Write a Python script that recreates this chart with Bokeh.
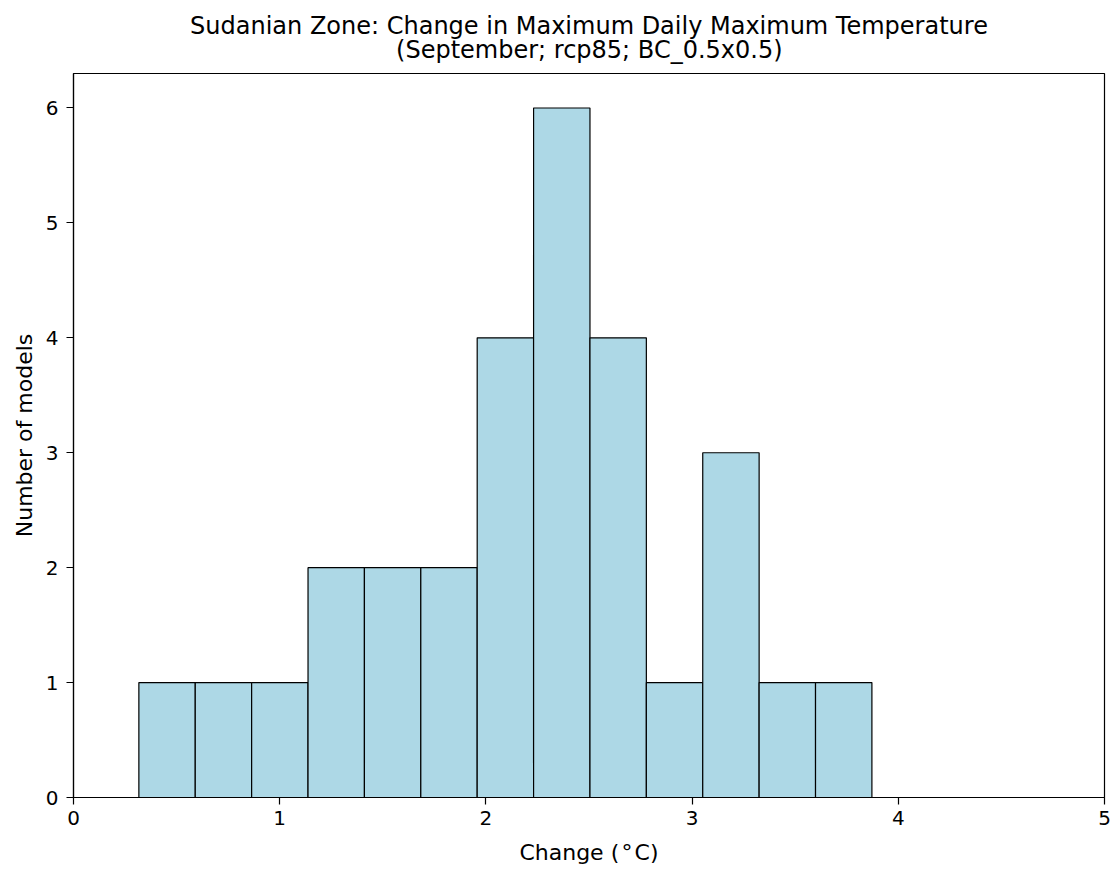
import numpy as np
from bokeh.plotting import figure
from bokeh.models import Range1d, FixedTicker, Title, ColumnDataSource
from bokeh.embed import file_html
from bokeh.resources import INLINE

# Histogram data
counts = [1, 1, 1, 2, 2, 2, 4, 6, 4, 1, 3, 1, 1]
bin_start = 0.317
bin_end = 3.872
x_ticks = [0, 1, 2, 3, 4, 5]
y_ticks = [0, 1, 2, 3, 4, 5, 6]
title_line1 = "Sudanian Zone: Change in Maximum Daily Maximum Temperature"
title_line2 = "(September; rcp85; BC_0.5x0.5)"
x_label = "Change (\u200a\u00b0\u200aC)"
y_label = "Number of models"

edges = np.linspace(bin_start, bin_end, len(counts) + 1)
src = ColumnDataSource(dict(left=edges[:-1], right=edges[1:],
                            top=counts, bottom=[0] * len(counts)))

FONT = "DejaVu Sans"
W, H = 1114, 869

# second line is padded with no-break spaces so it sits centred under line 1
title_text = title_line1 + "\n" + "\u00a0" * 27 + title_line2

p = figure(width=W, height=H, output_backend="svg", toolbar_location=None,
           x_range=Range1d(0, 5), y_range=Range1d(0, 6.3),
           min_border_left=73, min_border_right=10, min_border_top=72,
           min_border_bottom=72)
p.title = Title(text=title_text, align="center", text_font=FONT,
                text_font_size="24px", text_font_style="normal",
                text_color="#000000", text_line_height=0.85, standoff=19)

p.quad(left="left", right="right", top="top", bottom="bottom", source=src,
       fill_color="#add8e6", line_color="#000000", line_width=1.2)

p.xgrid.visible = False
p.ygrid.visible = False
p.outline_line_color = "#000000"
p.outline_line_width = 1.2
p.background_fill_color = "#ffffff"
p.border_fill_color = "#ffffff"

for ax in (p.xaxis[0], p.yaxis[0]):
    ax.axis_line_color = "#000000"
    ax.axis_line_width = 1.2
    ax.major_tick_line_color = "#000000"
    ax.major_tick_line_width = 1.2
    ax.major_tick_out = 7
    ax.major_tick_in = 0
    ax.minor_tick_line_color = None
    ax.major_label_text_font = FONT
    ax.major_label_text_font_size = "20px"
    ax.major_label_text_color = "#000000"
    ax.axis_label_text_font = FONT
    ax.axis_label_text_font_size = "22px"
    ax.axis_label_text_font_style = "normal"
    ax.axis_label_text_color = "#000000"

p.xaxis[0].ticker = FixedTicker(ticks=x_ticks)
p.yaxis[0].ticker = FixedTicker(ticks=y_ticks)
p.xaxis[0].axis_label = x_label
p.yaxis[0].axis_label = y_label
p.xaxis[0].major_label_standoff = 6
p.yaxis[0].major_label_standoff = 8
p.xaxis[0].axis_label_standoff = 12
p.yaxis[0].axis_label_standoff = 6

with open("out.html", "w") as f:
    f.write(file_html(p, INLINE))
